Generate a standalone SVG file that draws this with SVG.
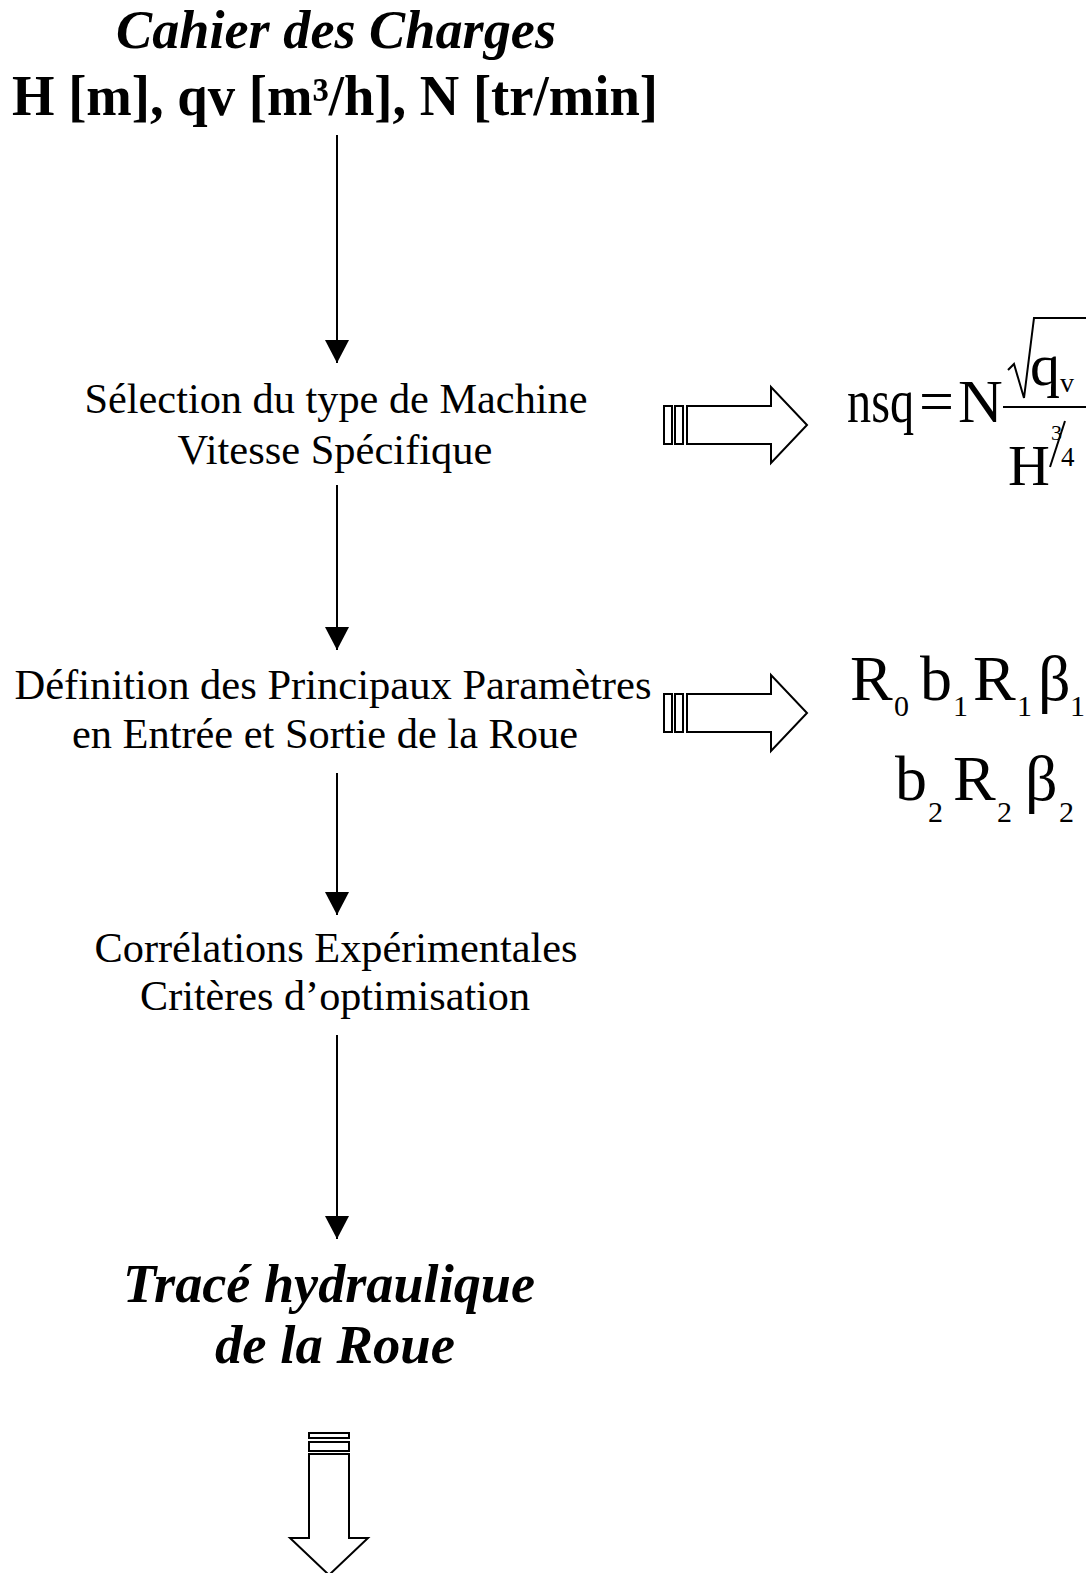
<svg xmlns="http://www.w3.org/2000/svg" width="1088" height="1573" viewBox="0 0 1088 1573">
<defs>
<style>
.t{font-family:"Liberation Serif","Times New Roman",serif;fill:#000}
.bi{font-weight:bold;font-style:italic;font-size:54px}
.b{font-weight:bold;font-size:56px}
.r{font-size:42px}
.f{font-family:"Liberation Serif","Times New Roman",serif;fill:#000}
.blk{fill:#fff;stroke:#000;stroke-width:2}
.ln{stroke:#000;stroke-width:2;fill:none}
</style>
<marker id="ah" markerWidth="23" markerHeight="24" refX="23" refY="12" orient="auto" markerUnits="userSpaceOnUse" viewBox="0 0 23 24">
<path d="M0,0 L23,12 L0,24 Z" fill="#000"/>
</marker>
</defs>
<rect width="1088" height="1573" fill="#fff"/>

<g id="n-cahier">
<text class="t bi" x="336" y="48" text-anchor="middle" textLength="440" lengthAdjust="spacingAndGlyphs">Cahier des Charges</text>
<text class="t b" x="335" y="115" text-anchor="middle" textLength="646" lengthAdjust="spacingAndGlyphs">H [m], qv [m³/h], N [tr/min]</text>
</g>

<g id="n-selection">
<text class="t r" x="336" y="413" text-anchor="middle" textLength="503" lengthAdjust="spacingAndGlyphs">Sélection du type de Machine</text>
<text class="t r" x="335" y="464" text-anchor="middle" textLength="315" lengthAdjust="spacingAndGlyphs">Vitesse Spécifique</text>
</g>

<g id="n-definition">
<text class="t r" x="333" y="699" text-anchor="middle" textLength="637" lengthAdjust="spacingAndGlyphs">Définition des Principaux Paramètres</text>
<text class="t r" x="325" y="748" text-anchor="middle" textLength="506" lengthAdjust="spacingAndGlyphs">en Entrée et Sortie de la Roue</text>
</g>

<g id="n-correlations">
<text class="t r" x="336" y="962" text-anchor="middle" textLength="483" lengthAdjust="spacingAndGlyphs">Corrélations Expérimentales</text>
<text class="t r" x="335" y="1010" text-anchor="middle" textLength="390" lengthAdjust="spacingAndGlyphs">Critères d’optimisation</text>
</g>

<g id="n-trace">
<text class="t bi" x="329" y="1302" text-anchor="middle" textLength="412" lengthAdjust="spacingAndGlyphs">Tracé hydraulique</text>
<text class="t bi" x="335" y="1363" text-anchor="middle" textLength="240" lengthAdjust="spacingAndGlyphs">de la Roue</text>
</g>

<g id="n-formula-nsq">
<path class="ln" d="M1008,370 L1014,364 L1024,398 L1034,318 L1086,318" stroke-width="3"/>
<line class="ln" x1="1003" y1="407" x2="1086" y2="407" stroke-width="3"/>
<line class="ln" x1="1065" y1="421" x2="1050" y2="467"/>
<text class="f" font-size="62" transform="translate(847,422) scale(0.78,1)">nsq</text>
<text class="f" font-size="62"><tspan x="919" y="422">=</tspan><tspan x="958" y="422">N</tspan><tspan x="1030" y="385" font-size="60">q</tspan><tspan x="1060" y="392" font-size="28">v</tspan><tspan x="1008" y="485" font-size="58">H</tspan><tspan x="1051" y="440" font-size="22">3</tspan><tspan x="1061" y="466" font-size="27">4</tspan></text>
</g>

<g id="n-formula-params">
<text class="f" font-size="64"><tspan x="850" y="700">R</tspan><tspan x="894" y="716" font-size="30">0</tspan><tspan x="920" y="700">b</tspan><tspan x="953" y="716" font-size="30">1</tspan><tspan x="973" y="700">R</tspan><tspan x="1017" y="716" font-size="30">1</tspan><tspan x="1038" y="700">β</tspan><tspan x="1070" y="716" font-size="30">1</tspan></text>
<text class="f" font-size="64"><tspan x="895" y="800">b</tspan><tspan x="928" y="822" font-size="30">2</tspan><tspan x="953" y="800">R</tspan><tspan x="997" y="822" font-size="30">2</tspan><tspan x="1025" y="800">β</tspan><tspan x="1059" y="822" font-size="30">2</tspan></text>
</g>

<g id="connectors">
<line class="ln" x1="337" y1="135" x2="337" y2="363" marker-end="url(#ah)"/>
<line class="ln" x1="337" y1="485" x2="337" y2="650" marker-end="url(#ah)"/>
<line class="ln" x1="337" y1="773" x2="337" y2="915" marker-end="url(#ah)"/>
<line class="ln" x1="337" y1="1035" x2="337" y2="1239" marker-end="url(#ah)"/>

<g id="blk1">
<rect class="blk" x="664" y="406" width="8" height="38"/>
<rect class="blk" x="675" y="406" width="8" height="38"/>
<polygon class="blk" points="687,406 771,406 771,387 807,425 771,463 771,444 687,444"/>
</g>
<g id="blk2">
<rect class="blk" x="664" y="694" width="8" height="38"/>
<rect class="blk" x="675" y="694" width="8" height="38"/>
<polygon class="blk" points="687,694 771,694 771,675 807,713 771,751 771,732 687,732"/>
</g>
<g id="blk3">
<rect class="blk" x="309" y="1433" width="40" height="5"/>
<rect class="blk" x="309" y="1442" width="40" height="9"/>
<polygon class="blk" points="309,1454 349,1454 349,1538 368,1538 329,1575 290,1538 309,1538"/>
</g>
</g>
</svg>
